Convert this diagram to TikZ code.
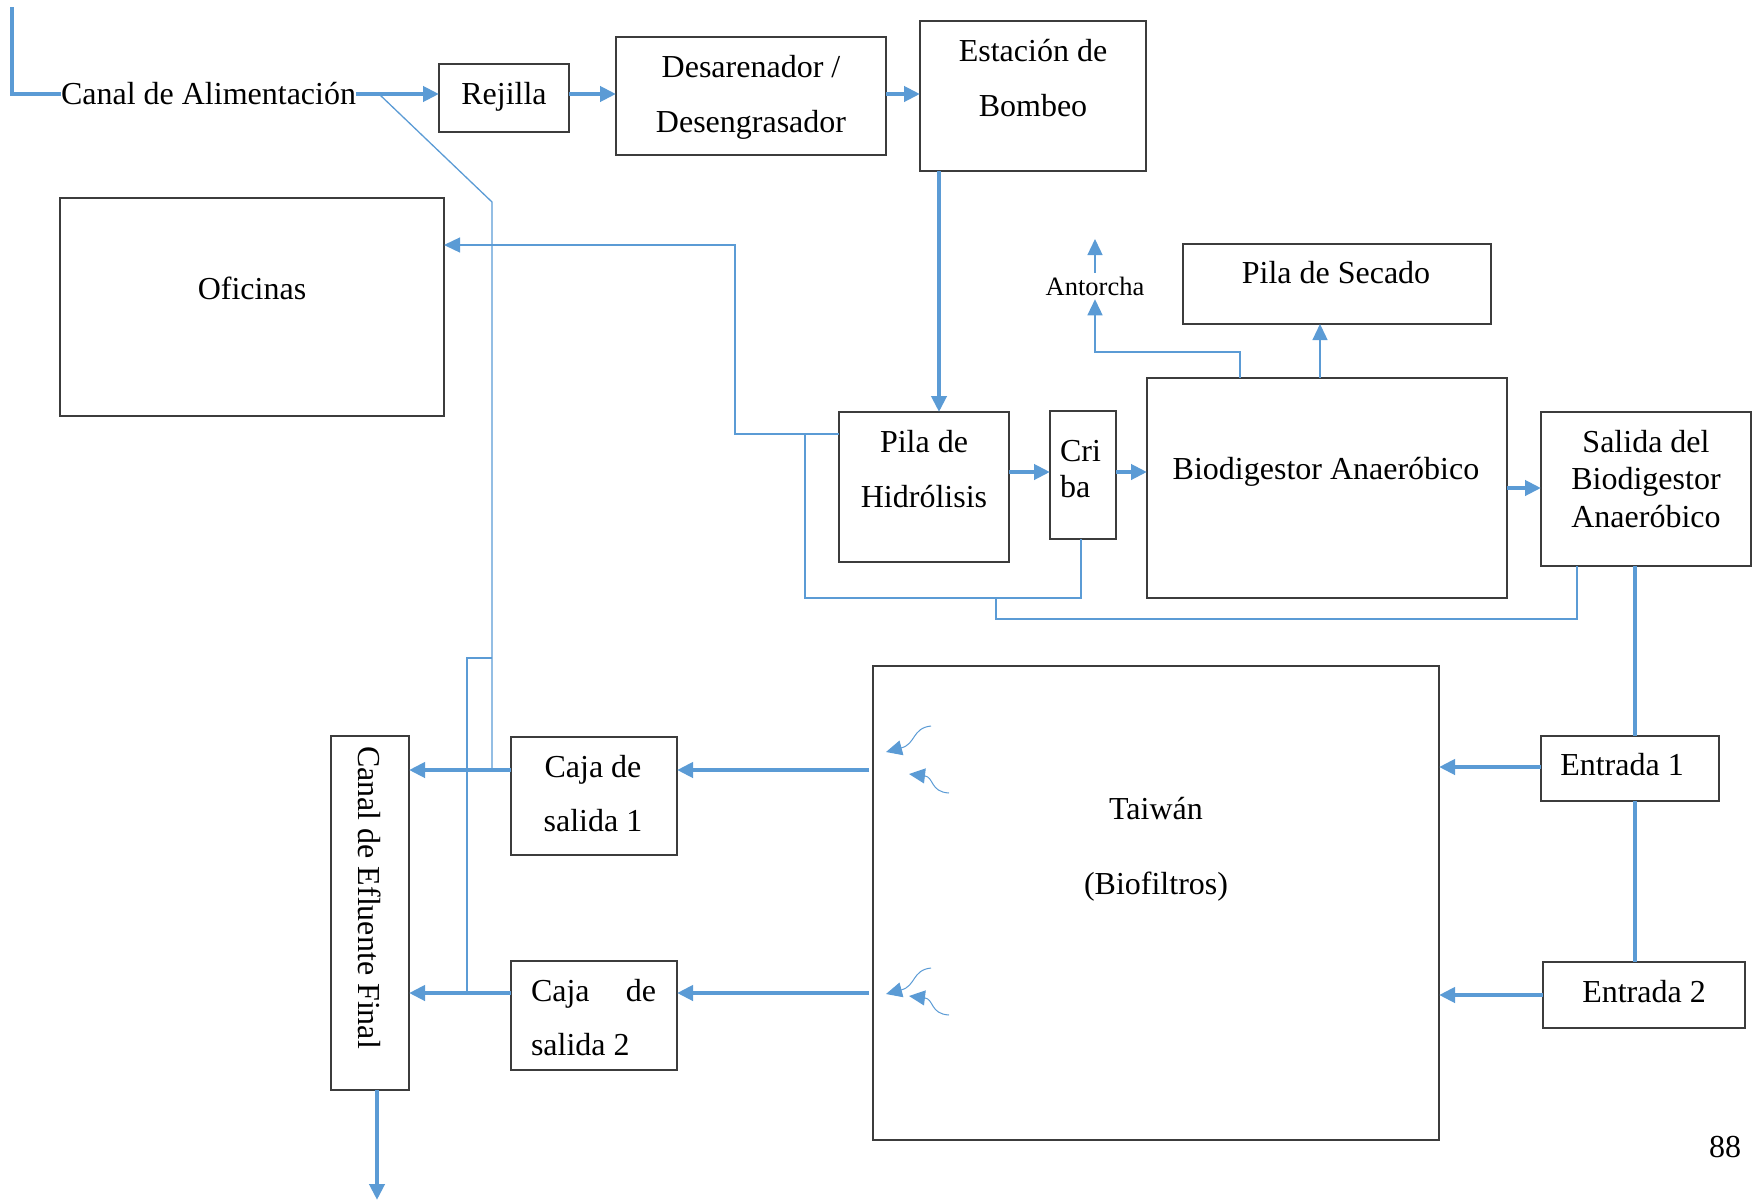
\documentclass[tikz,border=0pt]{standalone}
\usepackage{fontspec}
\setmainfont{Liberation Serif}
\usetikzlibrary{arrows.meta}
\definecolor{flow}{HTML}{5B9BD5}
\definecolor{frame}{HTML}{3C3C3C}

\begin{document}
\begin{tikzpicture}[x=1pt,y=-1pt,
  box/.style={draw=frame, line width=1.6pt, inner sep=0pt, outer sep=0pt},
  txt/.style={inner sep=0pt, outer sep=0pt, font=\fontsize{32}{38}\selectfont, anchor=base},
  small/.style={inner xsep=0pt, inner ysep=4pt, outer sep=0pt, font=\fontsize{26.5}{32}\selectfont, anchor=base},
  tip/.style={-{Triangle[length=16pt,width=15pt]}},
  main/.style={draw=flow, line width=4pt},
  aux/.style={draw=flow, line width=1.3pt},
  curl/.style={draw=flow, line width=1pt},
]
\useasboundingbox (0,0) rectangle (1753,1202);

% ---- process units -------------------------------------------------
\node[box, minimum width=130pt, minimum height=68pt]  (rej)   at (504,98)   {};
\node[box, minimum width=270pt, minimum height=118pt] (des)   at (751,96)   {};
\node[box, minimum width=226pt, minimum height=150pt] (est)   at (1033,96)  {};
\node[box, minimum width=384pt, minimum height=218pt] (ofi)   at (252,307)  {};
\node[box, minimum width=170pt, minimum height=150pt] (hid)   at (924,487)  {};
\node[box, minimum width=66pt,  minimum height=128pt] (cri)   at (1083,475) {};
\node[box, minimum width=360pt, minimum height=220pt] (bio)   at (1327,488) {};
\node[box, minimum width=308pt, minimum height=80pt]  (sec)   at (1337,284) {};
\node[box, minimum width=210pt, minimum height=154pt] (sal)   at (1646,489) {};
\node[box, minimum width=178pt, minimum height=65pt]  (en1)   at (1630,768.5) {};
\node[box, minimum width=202pt, minimum height=66pt]  (en2)   at (1644,995) {};
\node[box, minimum width=566pt, minimum height=474pt] (tai)   at (1156,903) {};
\node[box, minimum width=166pt, minimum height=118pt] (caja1) at (594,796)  {};
\node[box, minimum width=166pt, minimum height=109pt] (caja2) at (594,1015.5) {};
\node[box, minimum width=78pt,  minimum height=354pt] (efl)   at (370,913)  {};

% ---- labels ----------------------------------------------------------
\node[txt, anchor=base west] (alim) at (61,104) {Canal de Alimentación};
\node[txt] (rejT)  at (504,104)  {Rejilla};
\node[txt] (desT1) at (751,77)   {Desarenador /};
\node[txt] (desT2) at (751,132)  {Desengrasador};
\node[txt] (estT1) at (1033,61)  {Estación de};
\node[txt] (estT2) at (1033,116) {Bombeo};
\node[txt] (ofiT)  at (252,299)  {Oficinas};
\node[txt] (hidT1) at (924,452)  {Pila de};
\node[txt] (hidT2) at (924,507)  {Hidrólisis};
\node[txt, anchor=base west] (criT1) at (1060,461) {Cri};
\node[txt, anchor=base west] (criT2) at (1060,497) {ba};
\node[txt] (bioT)  at (1326,479)  {Biodigestor Anaeróbico};
\node[txt] (secT)  at (1336,283)  {Pila de Secado};
\node[small] (torch) at (1095,295) {Antorcha};
\node[txt] (salT1) at (1646,452)  {Salida del};
\node[txt] (salT2) at (1646,489)  {Biodigestor};
\node[txt] (salT3) at (1646,527)  {Anaeróbico};
\node[txt] (en1T)  at (1622,775)  {Entrada 1};
\node[txt] (en2T)  at (1644,1002) {Entrada 2};
\node[txt] (taiT1) at (1156,819)  {Taiwán};
\node[txt] (taiT2) at (1156,894)  {(Biofiltros)};
\node[txt] (c1T1)  at (593,777)   {Caja de};
\node[txt] (c1T2)  at (593,831)   {salida 1};
\node[txt, anchor=base west] (c2T1) at (531,1001) {\makebox[125pt][s]{Caja de}};
\node[txt, anchor=base west] (c2T2) at (531,1055) {salida 2};
\node[txt, anchor=base west, rotate=-90] (eflT) at (358,746) {Canal de Efluente Final};
\node[txt, anchor=base west] (page) at (1709,1157) {88};

% ---- reference levels ------------------------------------------------
\coordinate (feedIn) at (12,7);
\coordinate (feedBend) at (12,94);
\coordinate (yTop) at (0,94);
\coordinate (xPump) at (939,0);
\coordinate (yMid) at (0,472);
\coordinate (xDry) at (1320,0);
\coordinate (gasA) at (1240,352);
\coordinate (gasB) at (1095,352);
\coordinate (flare) at (1095,239);
\coordinate (ofA) at (735,434);
\coordinate (ofB) at (735,245);
\coordinate (rcA) at (805,434);
\coordinate (rcB) at (805,598);
\coordinate (rcC) at (1081,598);
\coordinate (rdA) at (996,598);
\coordinate (rdB) at (996,619);
\coordinate (rdC) at (1577,619);
\coordinate (xRiser) at (1635,0);
\coordinate (yIn1) at (0,767);
\coordinate (yIn2) at (0,995);
\coordinate (yOut1) at (0,770);
\coordinate (yOut2) at (0,993);
\coordinate (xDrain) at (377,0);
\coordinate (drainOut) at (377,1200);
\coordinate (byA) at (379,94);
\coordinate (byB) at (492,202);
\coordinate (byC) at (492,770);
\coordinate (byD) at (492,658);
\coordinate (byE) at (467,658);
\coordinate (byF) at (467,993);

% ---- main flow ---------------------------------------------------------
\draw[main] (feedIn) -- (feedBend) -- (alim.west |- yTop);
\draw[main, tip] (alim.east |- yTop) -- (rej.west |- yTop);
\draw[main, tip] (rej.east |- yTop) -- (des.west |- yTop);
\draw[main, tip] (des.east |- yTop) -- (est.west |- yTop);
\draw[main, tip] (est.south -| xPump) -- (hid.north -| xPump);
\draw[main, tip] (hid.east |- yMid) -- (cri.west |- yMid);
\draw[main, tip] (cri.east |- yMid) -- (bio.west |- yMid);
\draw[main, tip] (bio.east) -- (sal.west |- bio.east);
\draw[main] (sal.south -| xRiser) -- (en1.north -| xRiser);
\draw[main] (en1.south -| xRiser) -- (en2.north -| xRiser);
\draw[main, tip] (en1.west |- yIn1) -- (tai.east |- yIn1);
\draw[main, tip] (en2.west |- yIn2) -- (tai.east |- yIn2);
\draw[main, tip, shorten <=4pt] (tai.west |- yOut1) -- (caja1.east |- yOut1);
\draw[main, tip, shorten <=4pt] (tai.west |- yOut2) -- (caja2.east |- yOut2);
\draw[main, tip] (caja1.west |- yOut1) -- (efl.east |- yOut1);
\draw[main, tip] (caja2.west |- yOut2) -- (efl.east |- yOut2);
\draw[main, tip] (efl.south -| xDrain) -- (drainOut);

% ---- secondary lines ---------------------------------------------------
\draw[aux, tip] (bio.north -| xDry) -- (sec.south -| xDry);
\draw[aux, tip] (bio.north -| gasA) -- (gasA) -- (gasB) -- (torch.south);
\draw[aux, tip] (torch.north) -- (flare);
\draw[aux, tip] (hid.west |- ofA) -- (ofA) -- (ofB) -- (ofi.east |- ofB);
\draw[aux] (rcA) -- (rcB) -- (rcC) -- (cri.south -| rcC);
\draw[aux] (rdA) -- (rdB) -- (rdC) -- (sal.south -| rdC);
\draw[aux] (byA) -- (byB) -- (byC);
\draw[aux] (byD) -- (byE) -- (byF);

% ---- inflow marks inside the biofilter ---------------------------------
\draw[curl, tip] (931,726) .. controls (912,728) and (916,744) .. (886,752);
\draw[curl, tip] (949,793) .. controls (930,792) and (934,777) .. (909,774);
\draw[curl, tip] (931,968) .. controls (912,970) and (916,986) .. (886,994);
\draw[curl, tip] (949,1015) .. controls (930,1014) and (934,999) .. (909,996);
\end{tikzpicture}
\end{document}
